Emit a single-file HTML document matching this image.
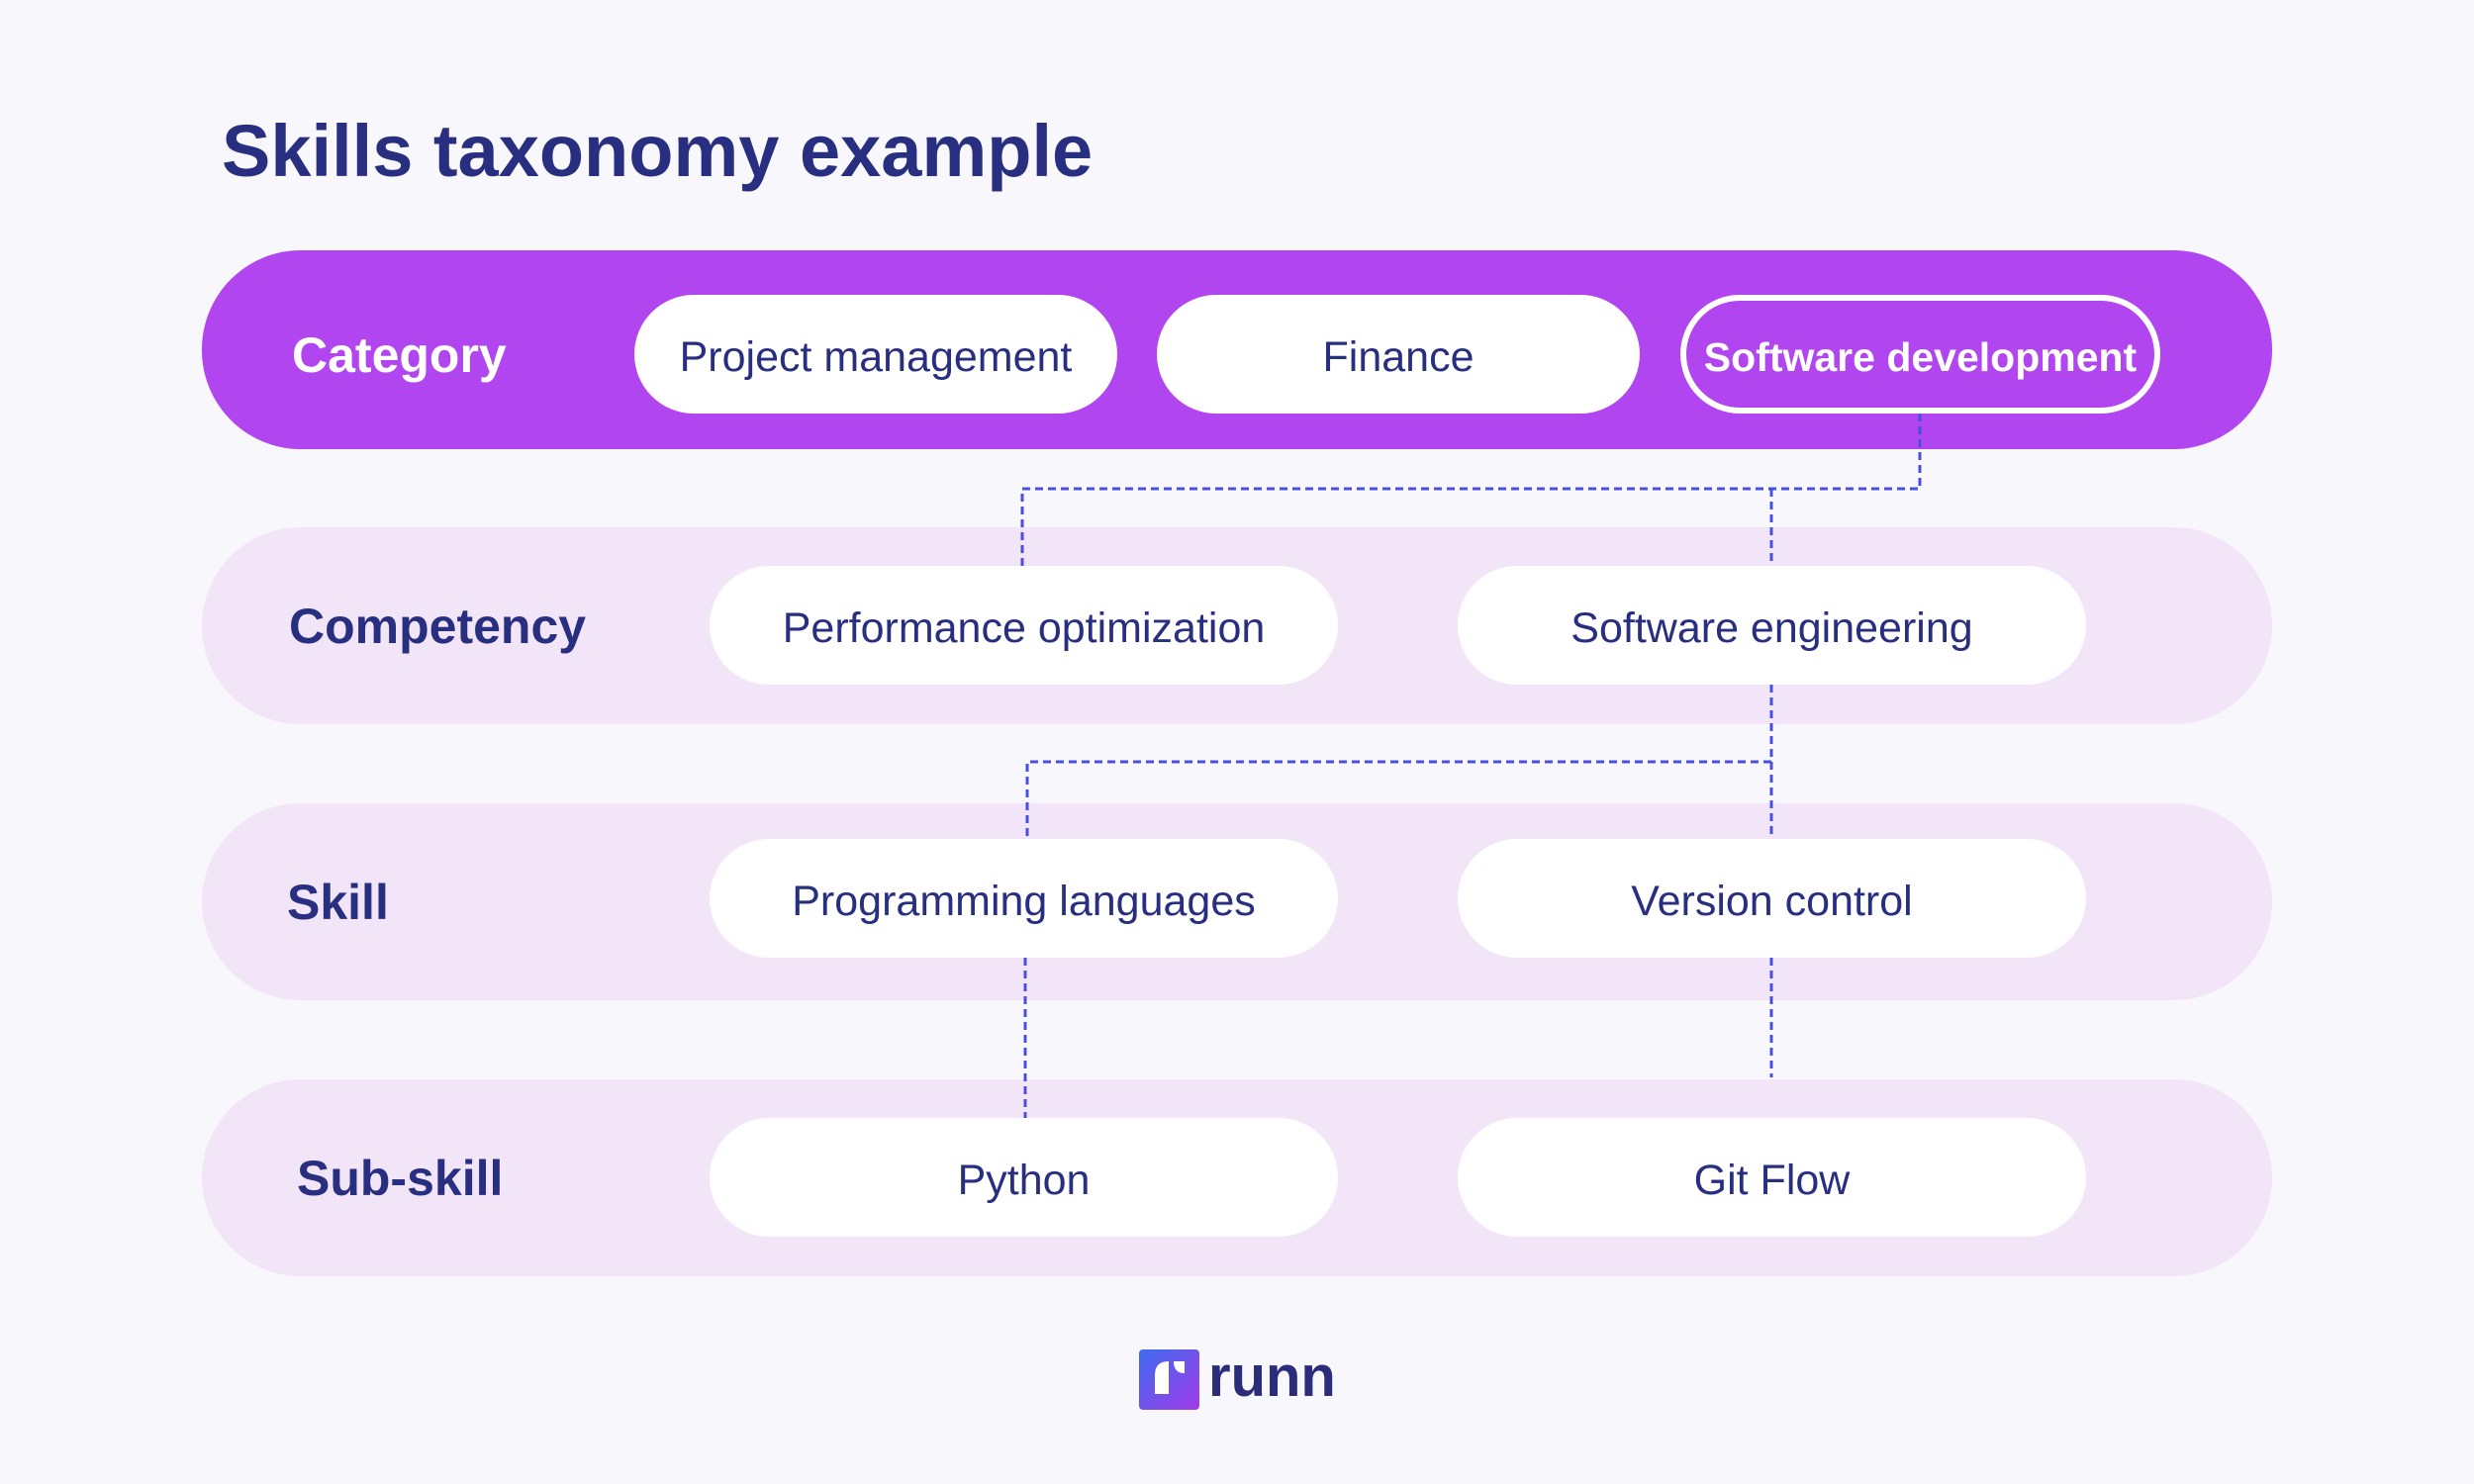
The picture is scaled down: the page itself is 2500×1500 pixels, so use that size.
<!DOCTYPE html>
<html><head><style>
body{margin:0;width:2500px;height:1500px;background:#f8f8fc;position:relative;overflow:hidden;font-family:"Liberation Sans",sans-serif;color:#282e80}
.a{position:absolute}
.band{position:absolute;left:204px;width:2092px;border-radius:100px;background:#f3e5f8}
.lab{position:absolute;font-weight:bold;font-size:50px;line-height:1}
.pill{position:absolute;background:#fff;border-radius:60px;display:flex;align-items:center;justify-content:center;font-size:43px;box-sizing:border-box;padding-top:6px}
</style></head><body>
<div class="a" style="left:224px;top:110px;font-size:74px;font-weight:bold;color:#282e80">Skills taxonomy example</div>
<div class="band" style="top:253px;height:201px;background:#b145ef"></div>
<div class="band" style="top:533px;height:199px"></div>
<div class="band" style="top:812px;height:199px"></div>
<div class="band" style="top:1091px;height:199px"></div>
<div class="lab" style="left:295px;top:334px;color:#fff">Category</div>
<div class="lab" style="left:292px;top:608px">Competency</div>
<div class="lab" style="left:290px;top:887px">Skill</div>
<div class="lab" style="left:300px;top:1166px">Sub-skill</div>
<div class="pill" style="left:641px;top:298px;width:488px;height:120px">Project management</div>
<div class="pill" style="left:1169px;top:298px;width:488px;height:120px">Finance</div>
<div class="pill" style="left:1698px;top:298px;width:485px;height:120px;background:#b145ef;border:6px solid #fff;color:#fff;font-weight:bold;font-size:41px">Software development</div>
<div class="pill" style="left:717px;top:572px;width:635px;height:120px">Performance optimization</div>
<div class="pill" style="left:1473px;top:572px;width:635px;height:120px">Software engineering</div>
<div class="pill" style="left:717px;top:848px;width:635px;height:120px">Programming languages</div>
<div class="pill" style="left:1473px;top:848px;width:635px;height:120px">Version control</div>
<div class="pill" style="left:717px;top:1130px;width:635px;height:120px">Python</div>
<div class="pill" style="left:1473px;top:1130px;width:635px;height:120px">Git Flow</div>
<svg class="a" style="left:0;top:0" width="2500" height="1500">
<g fill="none" stroke="#4a4ee0" stroke-width="3" stroke-dasharray="8 5">
<path d="M1940 418 V494 H1033 V572"/>
<path d="M1790 494 V572"/>
<path d="M1790 692 V845"/>
<path d="M1790 770 H1038 V848"/>
<path d="M1036 968 V1130"/>
<path d="M1790 968 V1089"/>
</g>
<defs><linearGradient id="g" x1="0" y1="0" x2="1" y2="1"><stop offset="0" stop-color="#3d6df0"/><stop offset="1" stop-color="#a23ae8"/></linearGradient></defs>
<rect x="1151" y="1364" width="61" height="61" rx="4" fill="url(#g)"/>
<path d="M1167 1409 V1390 Q1167 1376 1181 1376 V1409 Z M1186 1376 H1197 V1388 Q1186 1388 1186 1376 Z" fill="#fff"/>
</svg>
<div class="a" style="left:1221px;top:1358px;font-size:58px;color:#2a2d7c;font-weight:bold">runn</div>
</body></html>
